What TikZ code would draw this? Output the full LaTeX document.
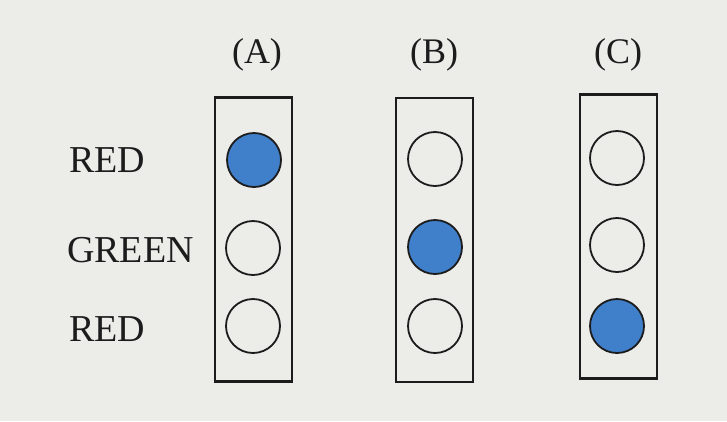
\documentclass[tikz,border=0pt]{standalone}
\usepackage{fontspec}
\setmainfont{Liberation Serif}
\usepackage{tikz}
\usetikzlibrary{shapes.geometric}
\definecolor{paper}{RGB}{236,236,233}
\definecolor{ink}{RGB}{28,28,28}
\definecolor{lampblue}{RGB}{64,127,201}
\tikzstyle{signal} = [rectangle, draw=ink, line width=2.4pt,
                      minimum width=77pt, minimum height=284pt]
\tikzstyle{lampoff} = [circle, draw=ink, line width=1.8pt,
                       minimum size=54pt, inner sep=0pt]
\tikzstyle{lampon} = [lampoff, fill=lampblue]
\tikzstyle{rowlabel} = [anchor=base west, inner sep=0pt, text=ink,
                        font=\fontsize{38}{40}\selectfont]
\tikzstyle{caselabel} = [anchor=base, inner sep=0pt, text=ink,
                         font=\fontsize{36}{38}\selectfont]

\begin{document}
\begin{tikzpicture}[x=1pt, y=-1pt]
        \fill[paper] (0,0) rectangle (727,421);
        \useasboundingbox (0,0) rectangle (727,421);

        %Signal boxes
        \node (SignalA) [signal] at (253.5,239.5) {};
        \node (SignalB) [signal] at (434.5,240) {};
        \node (SignalC) [signal] at (618.5,236.5) {};

        %Case labels
        \node (CaseA) [caselabel] at (257,63) {(A)};
        \node (CaseB) [caselabel] at (434,63) {(B)};
        \node (CaseC) [caselabel] at (618,63) {(C)};

        %Lamps of A
        \node (A1) [lampon] at (254,160) {};
        \node (A2) [lampoff] at (253,248) {};
        \node (A3) [lampoff] at (253,326) {};

        %Lamps of B
        \node (B1) [lampoff] at (435,159) {};
        \node (B2) [lampon] at (435,247) {};
        \node (B3) [lampoff] at (435,326) {};

        %Lamps of C
        \node (C1) [lampoff] at (617,158) {};
        \node (C2) [lampoff] at (617,245) {};
        \node (C3) [lampon] at (617,326) {};

        %Row labels
        \node (TopRed) [rowlabel] at (69,172) {RED};
        \node (Green) [rowlabel] at (67,262) {GREEN};
        \node (BottomRed) [rowlabel] at (69,341) {RED};

    \end{tikzpicture}
\end{document}
